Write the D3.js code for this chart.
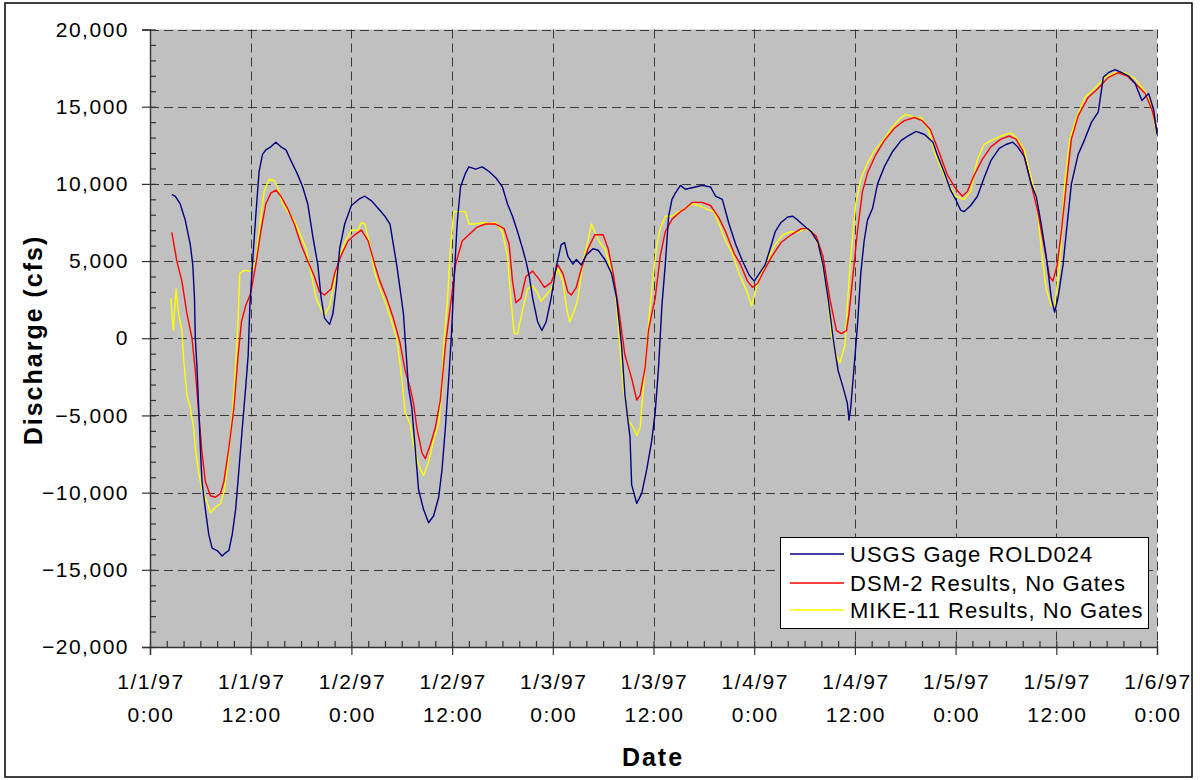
<!DOCTYPE html>
<html>
<head>
<meta charset="utf-8">
<script src="https://cdn.jsdelivr.net/npm/d3@7"></script>
<style>
  html, body { margin: 0; padding: 0; background: #fff; }
  svg { display: block; font-family: "Liberation Sans", Arial, sans-serif; }
</style>
</head>
<body>
<svg id="chart" width="1200" height="780"></svg>
<script>
// ---------------- DATA (hours since 1/1/97 0:00, discharge in cfs) ----------------
const seriesNames = ["USGS Gage ROLD024", "DSM-2 Results, No Gates", "MIKE-11 Results, No Gates"];
const seriesColors = ["#000080", "#FF0000", "#FFFF00"];

const usgsHours = [2.6,3.0,3.6,4.2,4.8,5.1,5.3,5.4,5.6,5.8,6.0,6.2,6.6,7.0,7.4,8.0,8.6,9.0,9.4,9.8,10.2,10.6,11.0,11.4,11.7,11.9,12.2,12.6,13.0,13.4,13.8,14.4,15.0,15.6,16.2,16.8,17.6,18.2,18.8,19.4,20.0,20.4,20.8,21.4,21.8,22.2,22.6,23.2,24.0,25.0,25.6,26.4,27.2,28.0,28.6,29.0,29.4,29.8,30.2,30.4,30.8,31.2,31.6,32.0,32.6,33.2,33.8,34.4,34.8,35.2,35.6,35.9,36.2,36.6,37.0,37.6,38.0,38.8,39.6,40.4,41.2,42.0,42.6,43.2,43.8,44.4,44.8,45.2,45.6,46.2,46.7,47.2,47.8,48.4,49.0,49.4,49.8,50.4,50.8,51.4,52.0,52.8,53.4,54.2,55.0,55.6,56.2,56.6,57.2,57.4,58.0,58.6,59.2,59.8,60.2,60.6,61.0,61.4,61.8,62.2,62.6,63.2,63.8,65.0,65.8,66.8,67.4,68.2,69.0,69.8,70.6,71.4,72.0,72.5,73.3,73.9,74.5,75.2,76.0,76.6,77.2,78.0,78.8,79.6,80.2,80.8,81.4,82.0,82.6,83.1,83.3,83.5,83.9,84.3,84.7,85.1,85.5,86.1,86.7,87.5,88.5,89.5,90.3,91.3,92.3,93.3,93.8,94.6,95.4,96.0,96.6,97.0,97.8,98.6,99.4,100.2,101.2,102.0,102.8,103.4,104.2,105.0,105.6,106.2,106.8,107.4,107.8,108.2,108.8,109.2,109.8,110.6,111.4,112.2,113.0,113.6,114.2,115.0,115.8,116.6,117.4,118.2,119.0,119.6,120.0];
const usgsFlow = [9300,9200,8700,7650,6070,4750,2600,0,-1900,-4500,-7100,-9300,-11100,-12700,-13600,-13750,-14100,-13900,-13750,-12700,-11100,-8500,-5800,-3200,-1100,2100,4750,7900,10800,11900,12200,12400,12700,12400,12200,11500,10600,9800,8700,6600,4750,2600,1300,900,1600,3400,5800,7400,8600,9050,9200,8900,8400,7900,7400,6070,4750,3200,1600,0,-3200,-4500,-7100,-9800,-11100,-11950,-11500,-10300,-8500,-5800,-2600,0,3400,7400,9800,10700,11100,10950,11100,10800,10400,9800,8700,7900,6900,5800,5000,4000,2600,1050,500,1050,2600,4600,6070,6200,5300,4800,5100,4750,5400,5800,5700,5100,4200,2600,-500,-3700,-6400,-9500,-10700,-10050,-8500,-6600,-4800,-1900,2100,4750,7900,9000,9400,9900,9650,9800,9900,9800,9200,9000,7400,6070,5000,4100,3700,4100,4750,5800,6900,7500,7850,7900,7650,7250,6900,6200,4750,2600,0,-2100,-3200,-4200,-5300,-4500,-1900,800,4200,6300,7650,8400,10000,11100,12100,12800,13100,13400,13200,12700,11900,10800,9600,9000,8300,8200,8600,9200,10400,11500,12300,12550,12700,12400,11750,10000,9200,7400,5300,2600,1700,2600,4750,6900,10000,11900,12900,14000,14650,16900,17200,17400,17200,17000,16500,15400,15850,14800,13200];

const dsmHours = [2.6,3.2,3.8,4.4,5.0,5.4,5.8,6.2,6.6,7.2,7.8,8.4,8.8,9.4,10.0,10.5,10.9,11.4,12.0,12.6,13.2,13.8,14.4,15.0,15.6,16.4,17.2,18.0,18.8,19.6,20.2,20.8,21.6,22.0,22.8,23.6,24.4,25.2,26.0,26.8,27.4,28.2,29.0,29.8,30.4,31.0,31.4,31.8,32.4,32.8,33.4,34.0,34.6,35.2,35.8,36.4,37.2,38.0,39.0,40.0,41.2,42.2,42.8,43.2,43.6,44.2,44.8,45.6,46.4,47.0,47.8,48.6,49.2,49.8,50.2,50.8,51.4,52.2,53.0,54.0,54.6,55.2,55.8,56.6,57.4,58.0,58.4,59.0,59.4,59.8,60.2,60.8,61.4,62.2,63.2,63.8,64.6,65.8,66.8,67.8,68.6,69.6,70.4,71.2,71.8,72.4,72.9,74.1,75.2,76.4,77.6,78.4,79.4,80.2,81.0,81.8,82.4,83.0,83.3,83.7,84.3,84.9,85.5,86.5,87.5,88.7,89.9,91.1,92.0,93.0,94.0,95.0,96.0,96.8,97.4,98.2,99.2,100.2,101.4,102.4,103.2,104.0,105.0,105.8,106.6,107.2,107.6,108.1,108.6,109.2,109.8,110.6,111.8,113.0,114.2,115.4,116.4,117.6,118.6,119.4,120.0];
const dsmFlow = [6860,5000,3700,1600,0,-2100,-4800,-7400,-9300,-10200,-10300,-10050,-9300,-7100,-4500,-1100,1050,2100,2900,4750,6900,8700,9400,9600,9200,8400,7400,6070,5000,4000,3000,2800,3200,4200,5400,6300,6700,7000,6300,4750,3700,2600,1300,-300,-2100,-3200,-4200,-5800,-7400,-7800,-6900,-5800,-4000,-500,2100,4750,6300,6700,7200,7400,7400,7100,6070,3700,2300,2600,4000,4350,3800,3300,3600,4750,4200,3000,2800,3300,4500,5800,6700,6700,5800,4200,2100,-1100,-2600,-4000,-3700,-1900,500,1600,2600,5300,6900,7700,8200,8400,8800,8800,8600,7800,6900,5500,4750,3700,3300,3550,4100,5300,6200,6700,7100,7100,6600,5300,2600,500,300,500,1600,3700,6900,9500,10700,11900,12800,13600,14100,14300,14100,13500,12100,10600,9700,9200,9500,10550,11600,12400,12900,13100,12900,12150,10000,8200,5800,4000,3700,4750,6900,10000,12900,14400,15600,16200,16900,17200,17000,16400,15850,14800,13500];

const mikeHours = [2.5,2.65,2.8,2.9,3.1,3.4,3.8,4.0,4.4,4.8,5.2,5.4,5.8,6.2,6.8,7.2,7.8,8.4,8.9,9.3,9.8,10.2,10.5,10.7,11.2,11.8,12.2,12.6,13.0,13.6,14.2,14.8,15.2,15.8,16.6,17.2,18.0,18.6,19.2,19.8,20.4,20.8,21.4,22.0,22.6,23.2,24.0,24.8,25.2,25.6,26.2,26.8,27.4,28.2,28.8,29.4,30.0,30.4,31.0,31.4,32.0,32.6,33.2,33.8,34.4,34.8,35.0,35.4,35.8,36.2,36.8,37.6,38.0,38.8,39.8,40.4,41.2,42.0,42.6,43.0,43.4,43.8,44.4,45.0,45.6,46.2,46.6,47.2,47.8,48.6,49.2,49.6,50.0,50.6,51.0,51.6,52.2,52.6,53.0,53.6,54.2,54.8,55.4,56.0,56.4,57.0,57.6,58.0,58.4,58.8,59.2,59.6,60.0,60.4,60.8,61.4,62.2,63.0,63.8,64.6,65.4,66.2,67.2,67.8,68.6,69.4,70.2,71.0,71.7,72.5,73.5,74.5,75.4,76.4,77.2,78.0,79.0,79.8,80.6,81.2,81.8,82.2,82.8,83.1,83.5,84.1,84.7,85.5,86.5,87.5,88.5,89.5,90.1,91.1,91.9,92.7,93.6,94.6,95.2,96.0,97.0,97.8,98.6,99.4,100.2,101.4,102.6,103.4,104.2,104.8,105.6,106.2,106.8,107.4,107.8,108.4,109.0,109.6,110.4,111.4,112.6,113.8,115.0,116.2,117.4,118.4,119.2,120.0];
const mikeFlow = [2600,1300,500,1600,3200,1600,500,-1300,-3700,-4500,-5800,-7100,-8700,-9800,-10600,-11300,-10950,-10700,-9800,-8000,-5000,-1900,1300,4200,4400,4350,4400,5000,6900,9500,10300,10200,9800,8700,8050,7650,6600,5800,4200,2600,1850,1500,2100,3700,5300,6200,7000,7000,7500,7400,6070,4200,3200,2100,1050,0,-2600,-4800,-5550,-6900,-8200,-8900,-8000,-6600,-5550,-3200,-500,2100,5800,8200,8200,8200,7400,7400,7500,7400,7500,6900,5300,2600,300,300,1850,3200,3400,2900,2400,2800,3200,4500,3700,2100,1050,1850,2600,5000,6300,7400,6900,6200,5800,4750,3400,-500,-3200,-5300,-5800,-6300,-5800,-3200,-500,2100,4200,6070,7100,7900,7900,8200,8400,8700,8600,8400,8200,7400,6300,5500,4200,3200,2100,3700,5000,6070,6700,6900,6850,7100,6850,5800,3400,300,-1100,-1600,-500,2100,5300,8700,10300,11350,12300,12900,13700,14300,14500,14300,14300,13600,11900,10600,9900,9200,9000,9500,11600,12550,12800,13100,13300,12900,12150,10800,9200,5800,3200,2100,2100,4750,10000,12900,14300,15600,16200,16900,17200,17200,16800,16100,15300,13200];

const xTickHours = [0,12,24,36,48,60,72,84,96,108,120];
const xTickDates = ["1/1/97","1/1/97","1/2/97","1/2/97","1/3/97","1/3/97","1/4/97","1/4/97","1/5/97","1/5/97","1/6/97"];
const xTickTimes = ["0:00","12:00","0:00","12:00","0:00","12:00","0:00","12:00","0:00","12:00","0:00"];
const yTickValues = [-20000,-15000,-10000,-5000,0,5000,10000,15000,20000];

// ---------------- LAYOUT ----------------
const W = 1200, H = 780;
const plot = { left: 150, right: 1157, top: 29.5, bottom: 647 };

const svg = d3.select("#chart");
svg.append("rect").attr("x", 0).attr("y", 0).attr("width", W).attr("height", H).attr("fill", "#fff");
svg.append("rect").attr("x", 5).attr("y", 3).attr("width", 1187).attr("height", 774)
  .attr("fill", "none").attr("stroke", "#000").attr("stroke-width", 1.5);

const x = d3.scaleLinear().domain([0, 120]).range([plot.left, plot.right]);
const y = d3.scaleLinear().domain([-20000, 20000]).range([plot.bottom, plot.top]);

// plot background
svg.append("rect").attr("x", plot.left).attr("y", plot.top)
  .attr("width", plot.right - plot.left).attr("height", plot.bottom - plot.top)
  .attr("fill", "#C0C0C0");

// gridlines
const grid = svg.append("g").attr("stroke", "#3a3a3a").attr("stroke-width", 1).attr("stroke-dasharray", "9,5");
grid.selectAll("line.h").data(yTickValues.filter(v => v > -20000)).join("line")
  .attr("x1", plot.left).attr("x2", plot.right)
  .attr("y1", d => Math.round(y(d)) + 0.5).attr("y2", d => Math.round(y(d)) + 0.5);
grid.selectAll("line.v").data(xTickHours.filter(h => h > 0)).join("line")
  .attr("y1", plot.top).attr("y2", plot.bottom)
  .attr("x1", d => Math.round(x(d)) + 0.5).attr("x2", d => Math.round(x(d)) + 0.5);

// series lines
const line = d3.line().x(d => x(d[0])).y(d => y(d[1]));
const seriesData = [
  d3.zip(usgsHours, usgsFlow),
  d3.zip(dsmHours, dsmFlow),
  d3.zip(mikeHours, mikeFlow)
];
const order = [2, 1, 0];
order.forEach(i => {
  svg.append("path").datum(seriesData[i])
    .attr("d", line).attr("fill", "none")
    .attr("stroke", seriesColors[i]).attr("stroke-width", 1.4)
    .attr("stroke-linejoin", "round");
});

// axes
const axisColor = "#333";
const tickFont = { size: "21px", spacing: "1.5px" };

// Y axis: major (outward) + minor (inward)
const yAxisG = svg.append("g").attr("transform", `translate(${plot.left},0)`)
  .call(d3.axisLeft(y).tickValues(yTickValues).tickSize(8).tickPadding(13).tickFormat(d3.format(",")));
svg.append("g").attr("transform", `translate(${plot.left},0)`)
  .call(d3.axisLeft(y).tickValues(d3.range(-20000, 20001, 1000)).tickSize(-6).tickFormat(""))
  .call(g => g.select(".domain").remove());

// X axis
const xAxisG = svg.append("g").attr("transform", `translate(0,${plot.bottom})`)
  .call(d3.axisBottom(x).tickValues(xTickHours).tickSize(8).tickFormat(""));
svg.append("g").attr("transform", `translate(0,${plot.bottom})`)
  .call(d3.axisBottom(x).tickValues(d3.range(0, 121, 2)).tickSize(-6).tickFormat(""))
  .call(g => g.select(".domain").remove());

svg.selectAll(".domain").attr("stroke", axisColor).attr("stroke-width", 1.4);
svg.selectAll(".tick line").attr("stroke", axisColor).attr("stroke-width", 1.2);

yAxisG.selectAll(".tick text")
  .attr("fill", "#000").attr("font-size", tickFont.size)
  .attr("font-family", "Liberation Sans, Arial, sans-serif")
  .style("letter-spacing", tickFont.spacing);

// x tick labels (two lines)
const xl = svg.append("g").attr("font-size", tickFont.size).attr("fill", "#000")
  .style("letter-spacing", tickFont.spacing).attr("text-anchor", "middle");
xl.selectAll("text.d").data(xTickHours).join("text")
  .attr("x", d => x(d) + 1).attr("y", 689).text((d, i) => xTickDates[i]);
xl.selectAll("text.t").data(xTickHours).join("text")
  .attr("x", d => x(d) + 1).attr("y", 722).text((d, i) => xTickTimes[i]);

// axis titles
svg.append("text").attr("transform", "translate(42,340) rotate(-90)")
  .attr("text-anchor", "middle").attr("font-size", "25px").attr("font-weight", "bold")
  .style("letter-spacing", "2px").text("Discharge (cfs)");
svg.append("text").attr("x", 653).attr("y", 766)
  .attr("text-anchor", "middle").attr("font-size", "25px").attr("font-weight", "bold")
  .style("letter-spacing", "2px").text("Date");

// legend
const leg = svg.append("g");
leg.append("rect").attr("x", 780.5).attr("y", 537.5).attr("width", 368).attr("height", 91)
  .attr("fill", "#fff").attr("stroke", "#000").attr("stroke-width", 1);
const legRows = [554, 583, 610];
seriesNames.forEach((name, i) => {
  leg.append("line").attr("x1", 790).attr("x2", 844)
    .attr("y1", legRows[i]).attr("y2", legRows[i])
    .attr("stroke", seriesColors[i]).attr("stroke-width", 1.5);
  leg.append("text").attr("x", 850).attr("y", legRows[i] + 7.5)
    .attr("font-size", "22px").style("letter-spacing", "1px").attr("fill", "#000")
    .text(name);
});
</script>
</body>
</html>
